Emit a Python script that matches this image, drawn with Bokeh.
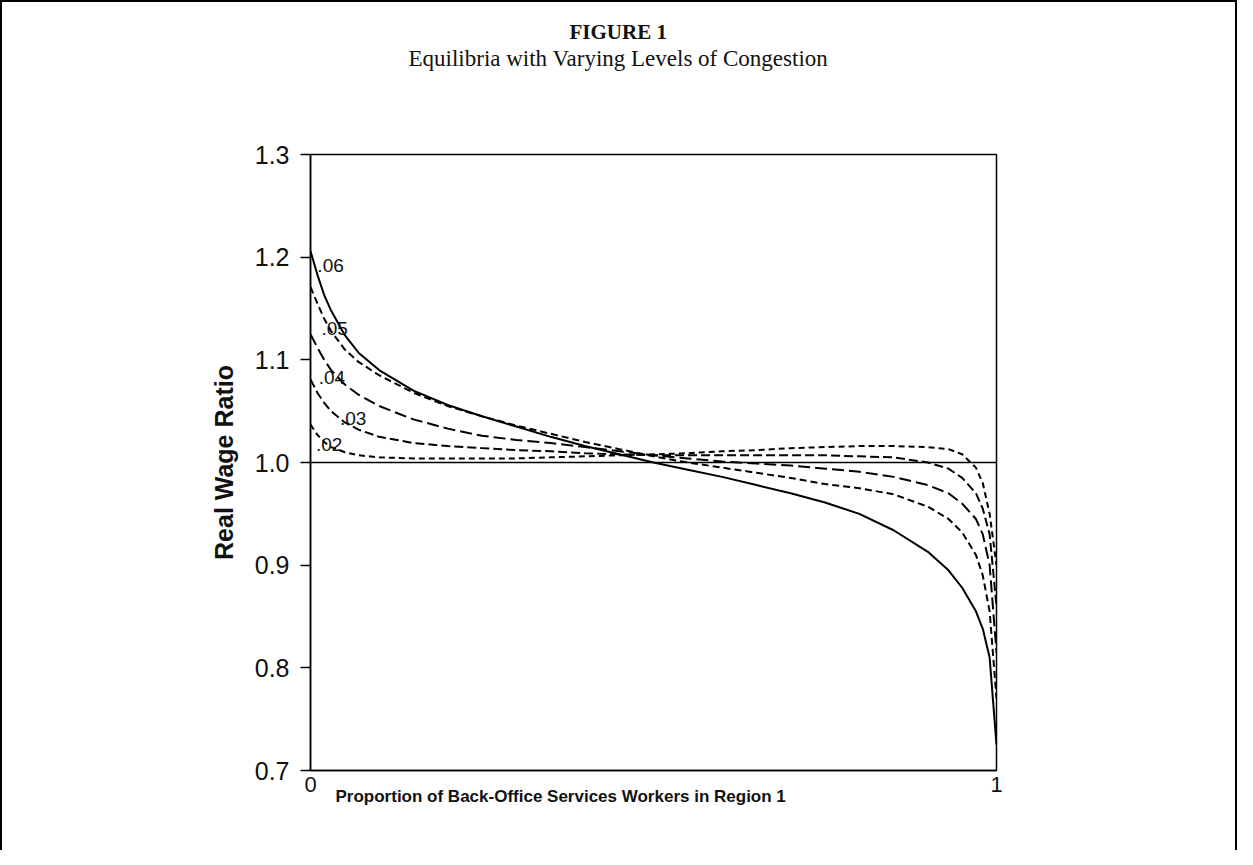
from bokeh.plotting import figure
from bokeh.models import FixedTicker, Range1d, PrintfTickFormatter, ColumnDataSource, Title
from bokeh.embed import file_html
from bokeh.resources import INLINE
from bokeh.core.properties import value

# ---- data ----
share = [0, 0.01, 0.02, 0.03, 0.05, 0.07, 0.1, 0.15, 0.2, 0.25, 0.3, 0.35, 0.4, 0.45,
         0.5, 0.55, 0.6, 0.65, 0.7, 0.75, 0.8, 0.85, 0.9, 0.93, 0.95, 0.97, 0.98, 0.99, 1.0]
c06 = [1.206, 1.183, 1.163, 1.148, 1.124, 1.107, 1.090, 1.070, 1.056, 1.045, 1.035, 1.025,
       1.016, 1.008, 1.000, 0.993, 0.986, 0.978, 0.970, 0.961, 0.950, 0.934, 0.913, 0.895,
       0.878, 0.855, 0.838, 0.810, 0.725]
c05 = [1.171, 1.155, 1.140, 1.128, 1.110, 1.098, 1.085, 1.068, 1.055, 1.045, 1.036, 1.028,
       1.020, 1.013, 1.006, 1.000, 0.995, 0.990, 0.985, 0.979, 0.975, 0.969, 0.957, 0.945,
       0.932, 0.910, 0.890, 0.855, 0.770]
c04 = [1.125, 1.112, 1.100, 1.090, 1.076, 1.066, 1.055, 1.042, 1.033, 1.026, 1.022, 1.019,
       1.015, 1.011, 1.007, 1.004, 1.001, 0.999, 0.997, 0.994, 0.991, 0.986, 0.978, 0.970,
       0.960, 0.945, 0.930, 0.900, 0.815]
c03 = [1.081, 1.068, 1.058, 1.050, 1.039, 1.032, 1.025, 1.019, 1.016, 1.014, 1.012, 1.011,
       1.009, 1.008, 1.007, 1.007, 1.007, 1.007, 1.007, 1.007, 1.006, 1.005, 1.000, 0.994,
       0.985, 0.970, 0.955, 0.930, 0.860]
c02 = [1.037, 1.027, 1.020, 1.015, 1.010, 1.007, 1.005, 1.004, 1.004, 1.004, 1.004, 1.005,
       1.006, 1.007, 1.008, 1.009, 1.011, 1.012, 1.014, 1.015, 1.016, 1.016, 1.015, 1.013,
       1.008, 0.995, 0.980, 0.950, 0.900]
flat_x = [0, 1]
flat_y = [1.0, 1.0]

curve_names = [".06", ".05", ".04", ".03", ".02"]
label_x = [0.010, 0.016, 0.012, 0.043, 0.008]
label_y = [1.192, 1.131, 1.083, 1.043, 1.018]

y_ticks = [0.7, 0.8, 0.9, 1.0, 1.1, 1.2, 1.3]
x_ticks = [0, 1]

FONT = "Liberation Sans"
SERIF = "Liberation Serif"

p = figure(width=1237, height=850, output_backend="svg", toolbar_location=None,
           title=None, x_range=Range1d(0, 1), y_range=Range1d(0.7, 1.3),
           min_border_left=308, min_border_right=243, min_border_top=152,
           min_border_bottom=82)
p.styles = {"border-top": "2px solid black", "border-left": "2px solid black",
            "border-right": "2px solid black"}
p.grid.visible = False
p.outline_line_color = "black"
p.outline_line_width = 1.5
p.background_fill_color = "white"
p.border_fill_color = "white"

ya = p.yaxis[0]
ya.ticker = FixedTicker(ticks=y_ticks)
ya.formatter = PrintfTickFormatter(format="%.1f")
ya.major_tick_out = 10
ya.major_tick_in = 0
ya.minor_tick_out = 0
ya.minor_tick_in = 0
ya.major_tick_line_width = 1.5
ya.axis_line_width = 1.5
ya.major_label_text_font = FONT
ya.major_label_text_font_size = "25px"
ya.major_label_text_color = "#111111"
ya.major_label_standoff = 11
ya.axis_label = "Real Wage Ratio"
ya.axis_label_text_font = FONT
ya.axis_label_text_font_size = "25px"
ya.axis_label_text_font_style = "bold"
ya.axis_label_text_color = "#111111"
ya.axis_label_standoff = 14

xa = p.xaxis[0]
xa.ticker = FixedTicker(ticks=x_ticks)
xa.major_label_overrides = {0: "0", 1: "1"}
xa.major_tick_out = 0
xa.major_tick_in = 0
xa.minor_tick_out = 0
xa.minor_tick_in = 0
xa.axis_line_width = 1.5
xa.major_label_text_font = FONT
xa.major_label_text_font_size = "22px"
xa.major_label_text_color = "#111111"
xa.major_label_standoff = 6

p.line(share, c06, line_color="black", line_width=2)
p.line(share, c05, line_color="black", line_width=2, line_dash="7 4")
p.line(share, c04, line_color="black", line_width=2, line_dash="12 5")
p.line(share, c03, line_color="black", line_width=2, line_dash="9 4")
p.line(share, c02, line_color="black", line_width=2, line_dash="6 4")
p.line(flat_x, flat_y, line_color="black", line_width=1.5)

src = ColumnDataSource(dict(x=label_x, y=label_y, t=curve_names))
p.text(x="x", y="y", text="t", source=src, text_font=value(FONT),
       text_font_size="19px", text_align="left", text_baseline="middle",
       text_color="#111111")

# spacer + two title lines above the frame (first added is nearest the frame)
p.add_layout(Title(text=" ", text_font_size="10px", standoff=71), "above")
p.add_layout(Title(text="Equilibria with Varying Levels of Congestion", align="left",
                   offset=98, standoff=0, text_font=SERIF, text_font_size="23px",
                   text_font_style="normal", text_color="#111111"), "above")
p.add_layout(Title(text="FIGURE 1", align="left", offset=259, standoff=0,
                   text_font=SERIF, text_font_size="21px", text_font_style="bold",
                   text_color="#111111"), "above")

# x-axis caption, left-shifted as in the original
p.add_layout(Title(text="Proportion of Back-Office Services Workers in Region 1",
                   align="left", offset=25, standoff=-15, vertical_align="top",
                   text_font=FONT, text_font_size="17px", text_font_style="bold",
                   text_color="#111111"), "below")

open("out.html", "w").write(file_html(p, INLINE))
